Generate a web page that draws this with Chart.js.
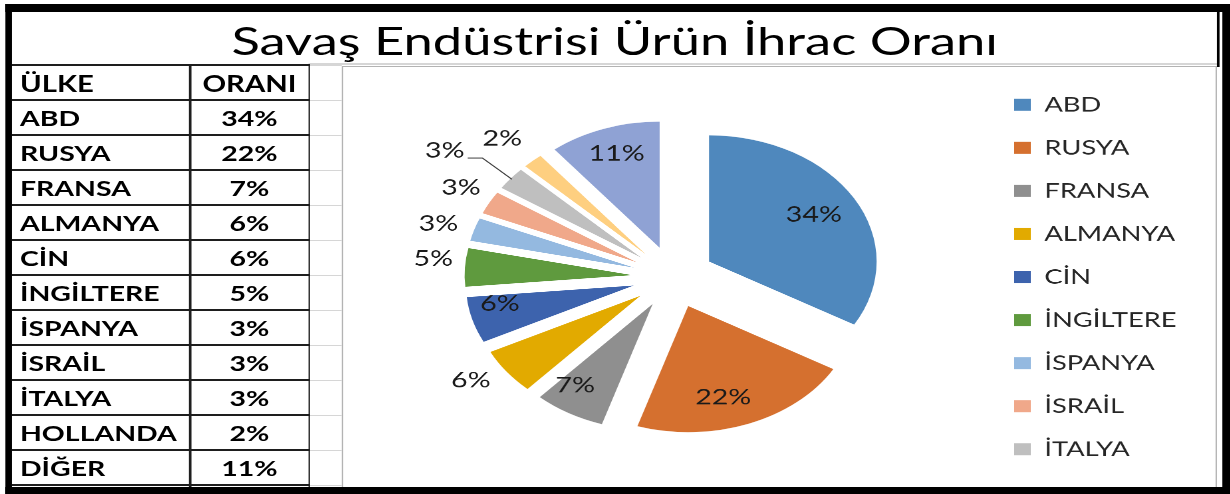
<!DOCTYPE html>
<html><head><meta charset="utf-8">
<script src="https://cdn.jsdelivr.net/npm/chart.js@4.4.1/dist/chart.umd.min.js"></script>
<style>
html,body{margin:0;padding:0;background:#fff;width:1230px;height:494px;overflow:hidden;}
#stage{position:absolute;left:0;top:0;width:924.8px;height:494px;transform:scaleX(1.33);transform-origin:0 0;font-family:Lato,'Open Sans',sans-serif;color:#000;}
#stage div{position:absolute;box-sizing:border-box;}
.blk{background:#000;}
.tl{background:#1e1e1e;}
.gl{background:#d6d6d6;}
.cell{height:35px;line-height:35px;font-size:21.4px;font-weight:700;white-space:nowrap;color:#000;}
.cell.hd{font-size:22px;}
#title{font-size:39.5px;line-height:1.2;font-weight:400;text-align:center;white-space:nowrap;}
</style></head>
<body>
<div id="stage"></div>
<script>
// ---- data ----
const titleText = 'Savaş Endüstrisi Ürün İhrac Oranı';
const tableHeader = ['ÜLKE', 'ORANI'];
const categories = ['ABD','RUSYA','FRANSA','ALMANYA','CİN','İNGİLTERE','İSPANYA','İSRAİL','İTALYA','HOLLANDA','DİĞER'];
const shares = [34, 22, 7, 6, 6, 5, 3, 3, 3, 2, 11];
const legendShown = 9; // the reference legend lists only the first 9 countries

// ---- styles ----
const sliceColors = ['#4f88bd','#d5702f','#8f8f8f','#e2aa00','#3d63ad','#5f9a3e','#94b9e0','#f0a88a','#bfbfbf','#fecf80','#8fa2d4'];
const labelRadiusFactor = [0.73, 0.75, 0.79, 1.21, 0.81, 1.195, 1.22, 1.21, 1.45, 1.257, 0.795];
const labelAngleShift = [-1.1, 5, 5.8, 3.8, 6.1, 3.0, -0.8, 1.5, -2.8, -0.5, 0.6];
const labelLeader = [false,false,false,false,false,false,false,false,true,false,false];
const legendFont = { family: 'Lato, "Open Sans", sans-serif', size: 20.5 };
const legendPad = 22.5, legendBoxW = 12.5;

const stage = document.getElementById('stage');
function box(cls, l, t, w, h, extra){
  const d = document.createElement('div');
  d.className = cls;
  Object.assign(d.style, {left:l+'px', top:t+'px', width:w+'px', height:h+'px'});
  if (extra) Object.assign(d.style, extra);
  stage.appendChild(d);
  return d;
}

// title
const t = box('', 9, 15.5, 906.4, 48); t.id = 'title'; t.textContent = titleText;
box('gl', 232, 63.3, 683.4, 1.3);

// table
const ROW0 = 65.3, ROWH = 35;
const rows = [tableHeader].concat(categories.map((c, i) => [c, shares[i] + '%']));
rows.forEach((r, k) => {
  const y = ROW0 + ROWH * k;
  const cls = k === 0 ? 'cell hd' : 'cell';
  const a = box(cls, 15, y + 0.5, 126, 35); a.textContent = r[0];
  const b = box(cls, 142.9, y + 0.5, 89.4, 35, {textAlign:'center'}); b.textContent = r[1];
});
for (let k = 0; k <= rows.length; k++) {
  const y = ROW0 + ROWH * k - 0.85;
  box('tl', 9, y, 224, 1.7);
  box('gl', 233, y + 0.3, 24, 1);
}
box('tl', 142.2, ROW0 - 0.85, 1.5, 423);
box('tl', 231.6, ROW0 - 0.85, 1.5, 423);

// chart area border + canvas holder
box('', 256.6, 66.2, 658.8, 425, {border:'1.4px solid #b3b3b3', background:'#fff'});
const HOLDER_W = 657.2;
const holder = box('', 257.6, 67.4, HOLDER_W, 419.6);
const canvas = document.createElement('canvas');
holder.appendChild(canvas);

// outer black frame
box('blk', 4.3, 4, 920.5, 8);
box('blk', 4.3, 4, 4.8, 490);
box('blk', 919.2, 4, 5.6, 490);
box('blk', 4.3, 486.8, 920.5, 7.2);
box('blk', 915.3, 11, 1.7, 56);

// keep exploded slices as pure translations (Excel-style explosion)
const explodeFix = {
  id: 'explodeFix',
  afterDatasetUpdate(chart, args) {
    const meta = chart.getDatasetMeta(args.index);
    const R = meta.controller.outerRadius;
    meta.data.forEach(arc => {
      const o = (arc.options.offset || 0) / 4;
      const circ = arc.endAngle - arc.startAngle;
      const ro = o * (1 - Math.sin(Math.min(Math.PI, circ)));
      arc.outerRadius = R - ro;
      const comp = ro / (2 * Math.PI * R);
      arc.startAngle -= comp;
      arc.endAngle += comp;
    });
  }
};

const sliceLabels = {
  id: 'sliceLabels',
  afterDatasetsDraw(chart) {
    const ctx = chart.ctx;
    const meta = chart.getDatasetMeta(0);
    const R = meta.controller.outerRadius;
    const fs = 21.5;
    ctx.save();
    ctx.font = fs + 'px Lato, "Open Sans", sans-serif';
    ctx.fillStyle = '#1a1a1a';
    ctx.textAlign = 'center';
    ctx.textBaseline = 'alphabetic';
    meta.data.forEach((arc, i) => {
      const mid = (arc.startAngle + arc.endAngle) / 2;
      const shift = (arc.options.offset || 0) / 4;
      const cx = arc.x + Math.cos(mid) * shift;
      const cy = arc.y + Math.sin(mid) * shift;
      const a = mid + labelAngleShift[i] * Math.PI / 180;
      const lx = cx + Math.cos(a) * labelRadiusFactor[i] * R;
      const ly = cy + Math.sin(a) * labelRadiusFactor[i] * R;
      const txt = chart.data.datasets[0].data[i] + '%';
      ctx.fillText(txt, lx, ly + fs * 0.36);
      if (labelLeader[i]) {
        const w = ctx.measureText(txt).width;
        const sx = lx + w / 2 + 2.5, sy = ly + 8;
        ctx.beginPath();
        ctx.moveTo(sx, sy);
        ctx.lineTo(sx + 11, sy);
        ctx.lineTo(cx + Math.cos(mid) * R * 0.99, cy + Math.sin(mid) * R * 0.99);
        ctx.strokeStyle = '#404040';
        ctx.lineWidth = 1;
        ctx.stroke();
      }
    });
    ctx.restore();
  }
};

function build() {
  const mctx = document.createElement('canvas').getContext('2d');
  mctx.font = legendFont.size + 'px ' + legendFont.family;
  const maxTextW = Math.max(...categories.slice(0, legendShown).map(c => mctx.measureText(c).width));
  const legendW = Math.ceil(legendPad + legendBoxW + legendFont.size / 2 + maxTextW + 3);
  const legendLeft = 482.0;           // chart-area right edge inside the canvas
  const padL = 2 * 248.25 - legendLeft;
  const padR = HOLDER_W - legendLeft - legendW;

  new Chart(canvas, {
    type: 'pie',
    data: {
      labels: categories,
      datasets: [{
        data: shares,
        backgroundColor: sliceColors,
        borderWidth: 0,
        offset: 124,
        radius: 126
      }]
    },
    options: {
      responsive: true,
      maintainAspectRatio: false,
      animation: false,
      devicePixelRatio: 2,
      events: [],
      radius: 126,
      layout: { padding: { left: padL, right: padR, top: 1, bottom: 1 } },
      plugins: {
        legend: {
          position: 'right',
          maxWidth: legendW,
          labels: {
            boxWidth: legendBoxW,
            boxHeight: 12,
            padding: legendPad,
            color: '#262626',
            font: legendFont,
            filter: (item) => item.index < legendShown
          }
        },
        tooltip: { enabled: false }
      }
    },
    plugins: [explodeFix, sliceLabels]
  });
}
if (document.fonts && document.fonts.load) {
  document.fonts.load('21px Lato').then(build, build);
} else { build(); }
</script>
</body></html>
